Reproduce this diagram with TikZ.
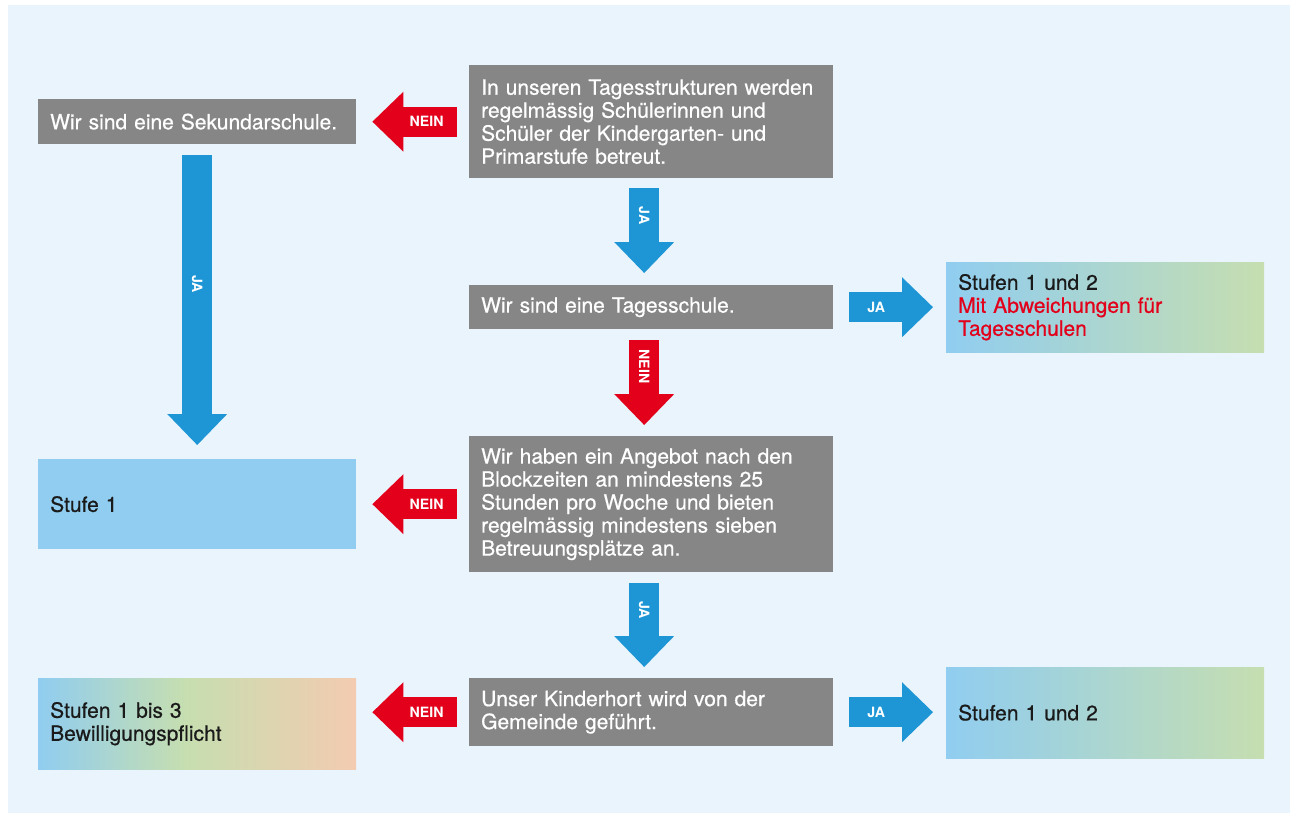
\documentclass[tikz,border=0pt]{standalone}
\usepackage{fontspec}
\setmainfont{TeX Gyre Heros}
\newfontfamily\medfont{TeX Gyre Heros}[FakeBold=0.6]
\usetikzlibrary{calc,arrows.meta}
\definecolor{bgc}{HTML}{EAF4FD}
\definecolor{boxgray}{HTML}{868686}
\definecolor{arrblue}{HTML}{1E96D5}
\definecolor{arrred}{HTML}{E2001A}
\definecolor{lblue}{HTML}{90CDF0}
\definecolor{lgreen}{HTML}{C6DEB0}
\definecolor{lpeach}{HTML}{F3CBB0}
\definecolor{darktext}{HTML}{1A1A1A}
\pgfdeclarehorizontalshading{bgp}{100bp}{color(0bp)=(lblue); color(25bp)=(lblue); color(48bp)=(lgreen); color(75bp)=(lpeach); color(100bp)=(lpeach)}
\tikzset{
  box/.style={rectangle, anchor=north west, inner xsep=12pt, inner ysep=0pt, align=left,
    font=\medfont\fontsize{21}{23}\selectfont},
  graybox/.style={box, fill=boxgray, text=white},
  colbox/.style={box, text=darktext},
  blockarrow/.style={line width=30pt, -{Triangle[length=31pt,width=60pt,line width=0pt]}},
  bluearrow/.style={blockarrow, draw=arrblue, fill=arrblue},
  redarrow/.style={blockarrow, draw=arrred, fill=arrred},
  lbl/.style={text=white, inner sep=0pt, font=\bfseries\fontsize{14.2}{15}\selectfont}
}
\begin{document}
\begin{tikzpicture}[x=1pt,y=-1pt]
\useasboundingbox (0,0) rectangle (1290,813);
\fill[white] (0,0) rectangle (1290,813);
\fill[bgc] (8,5) rectangle (1290,813);

% boxes
\node[graybox, text width=294pt, minimum width=318pt, minimum height=45pt] (sek) at (38,99) {Wir sind eine Sekundarschule.};
\node[graybox, text width=340pt, minimum width=364pt, minimum height=113pt] (q1) at (469,65)
  {In unseren Tagesstrukturen werden\\regelmässig Schülerinnen und\\Schüler der Kindergarten- und\\Primarstufe betreut.};
\node[graybox, text width=340pt, minimum width=364pt, minimum height=44pt] (tag) at (469,285) {Wir sind eine Tagesschule.};
\node[colbox, left color=lblue, right color=lgreen, text width=294pt, minimum width=317pt, minimum height=90pt] (s12a) at (946,262)
  {Stufen 1 und 2\\\textcolor{arrred}{Mit Abweichungen für}\\\textcolor{arrred}{Tagesschulen}};
\node[colbox, fill=lblue, text width=294pt, minimum width=318pt, minimum height=90pt] (s1) at (38,459) {Stufe 1};
\node[graybox, text width=340pt, minimum width=364pt, minimum height=136pt] (q3) at (469,436)
  {Wir haben ein Angebot nach den\\Blockzeiten an mindestens 25\\Stunden pro Woche und bieten\\regelmässig mindestens sieben\\Betreuungsplätze an.};
\node[graybox, text width=340pt, minimum width=364pt, minimum height=68pt] (q4) at (469,678)
  {Unser Kinderhort wird von der\\Gemeinde geführt.};
\node[colbox, shading=bgp, text width=294pt, minimum width=318pt, minimum height=91pt] (s13) at (38,678)
  {Stufen 1 bis 3\\Bewilligungspflicht};
\node[colbox, left color=lblue, right color=lgreen, text width=294pt, minimum width=317pt, minimum height=91pt] (s12b) at (946,667) {Stufen 1 und 2};

% arrows
\draw[redarrow] ($(q1.west)+(-12,0)$) -- node[lbl, pos=0.36] {NEIN} ($(sek.east)+(16,0)$);
\draw[bluearrow] ($(q1.south)+(-7,10)$) -- node[lbl, pos=0.32, rotate=-90] {JA} ($(tag.north)+(-7,-12)$);
\draw[bluearrow] ($(tag.east)+(16,0)$) -- node[lbl, pos=0.32] {JA} ($(s12a.west)+(-13,0)$);
\draw[redarrow] ($(tag.south)+(-7,11)$) -- node[lbl, pos=0.31, rotate=-90] {NEIN} ($(q3.north)+(-7,-11)$);
\draw[bluearrow] ($(sek.south)+(0,11)$) -- node[lbl, pos=0.445, rotate=-90] {JA} ($(s1.north)+(0,-14)$);
\draw[redarrow] ($(q3.west)+(-12,0)$) -- node[lbl, pos=0.36] {NEIN} ($(s1.east)+(16,0)$);
\draw[bluearrow] ($(q3.south)+(-7,11)$) -- node[lbl, pos=0.32, rotate=-90] {JA} ($(q4.north)+(-7,-11)$);
\draw[redarrow] ($(q4.west)+(-12,0)$) -- node[lbl, pos=0.36] {NEIN} ($(s13.east|-q4.west)+(16,0)$);
\draw[bluearrow] ($(q4.east)+(16,0)$) -- node[lbl, pos=0.32] {JA} ($(s12b.west|-q4.east)+(-13,0)$);
\end{tikzpicture}
\end{document}
